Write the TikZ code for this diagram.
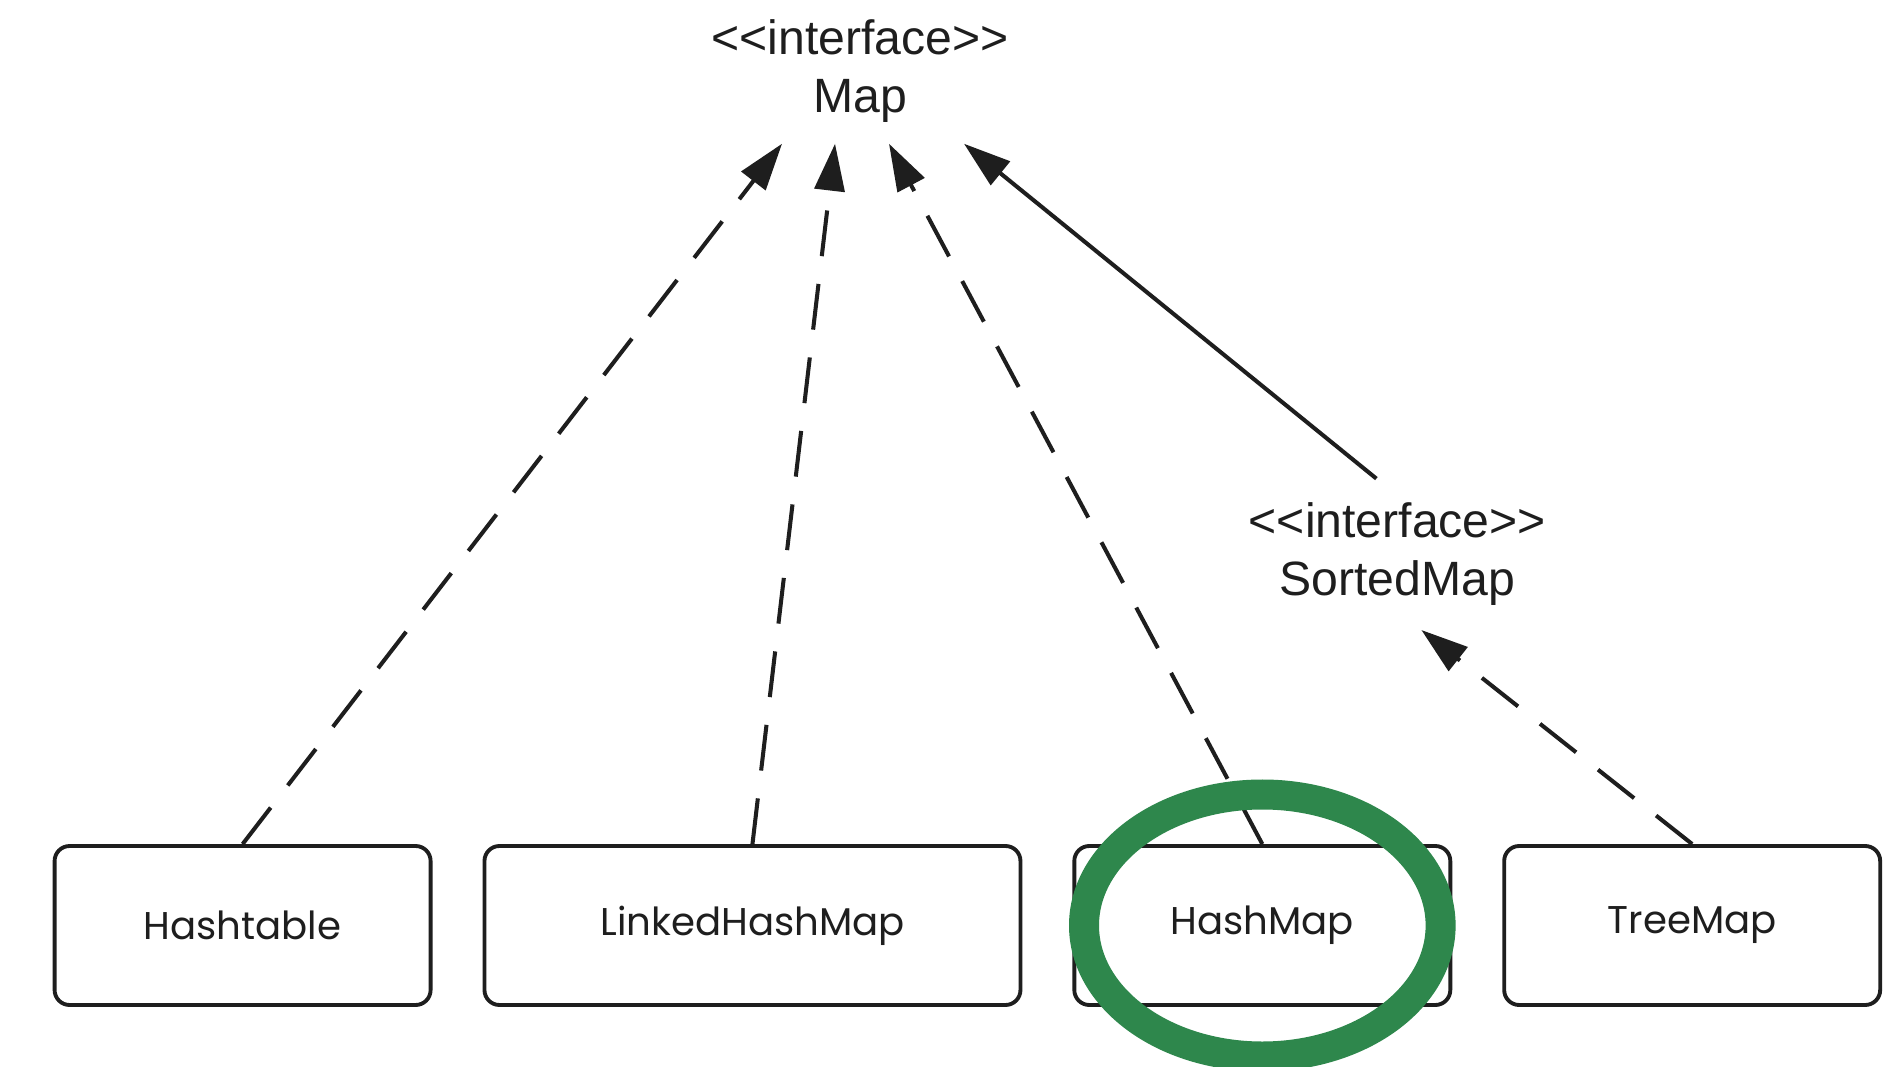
\documentclass[tikz,border=0pt]{standalone}
\usepackage{fontspec}
\setmainfont{Liberation Sans}
\newfontfamily\boxfont{Poppins}
\usetikzlibrary{positioning}
\usetikzlibrary{arrows.meta}
\definecolor{hlgreen}{RGB}{46,135,76}
\definecolor{ink}{RGB}{30,30,30}

\begin{document}
\begin{tikzpicture}
    [
    x=0.01213cm, y=0.01213cm,
    class/.style={draw=ink,rounded corners=1.5mm,line width=1.1pt,minimum width=3.76cm,
      minimum height=1.59cm,inner sep=0pt,text=ink,font=\boxfont\fontsize{11}{13}\selectfont},
    iface/.style={align=center,minimum height=1.43cm,inner sep=0pt,text=ink,
      font=\fontsize{13.7}{16.5}\selectfont},
    realize/.style={draw=ink,line width=1.15pt,dash pattern=on 4.6mm off 2.8mm,
      -{Triangle[length=4.7mm,width=3mm]}},
    extend/.style={draw=ink,line width=1.15pt,-{Triangle[length=4.7mm,width=3mm]}},
    highlight/.style={draw=hlgreen,line width=3mm},
    ]
    \fill [white] (0,0) rectangle (1568,879);
    \useasboundingbox (0,0) rectangle (1568,879);

    \node (map) at (709,820) [iface] {<{}<interface>{}>\\Map};
    \node (sorted) at (1152,422) [iface, minimum height=1.5cm] {<{}<interface>{}>\\SortedMap};

    \node (hashtable) at (200,116) [class] {Hashtable};
    \node (linked) [class, minimum width=5.36cm, right=0.5cm of hashtable] {LinkedHashMap};
    \node (hashmap) [class, right=0.5cm of linked] {HashMap};
    \node (treemap) [class, right=0.5cm of hashmap] {TreeMap};

    \draw [realize] (hashtable.north) to ([xshift=-0.78cm]map.south);
    \draw [realize] (linked.north) to ([xshift=-0.25cm]map.south);
    \draw [realize] (hashmap.north) to ([xshift=0.29cm]map.south);
    \draw [extend] ([xshift=-0.21cm]sorted.north) to ([xshift=1.04cm]map.south);
    \draw [realize] (treemap.north) to ([xshift=0.24cm]sorted.south);

    \draw [highlight] (hashmap) ellipse [x radius=147, y radius=108];
  \end{tikzpicture}
\end{document}
